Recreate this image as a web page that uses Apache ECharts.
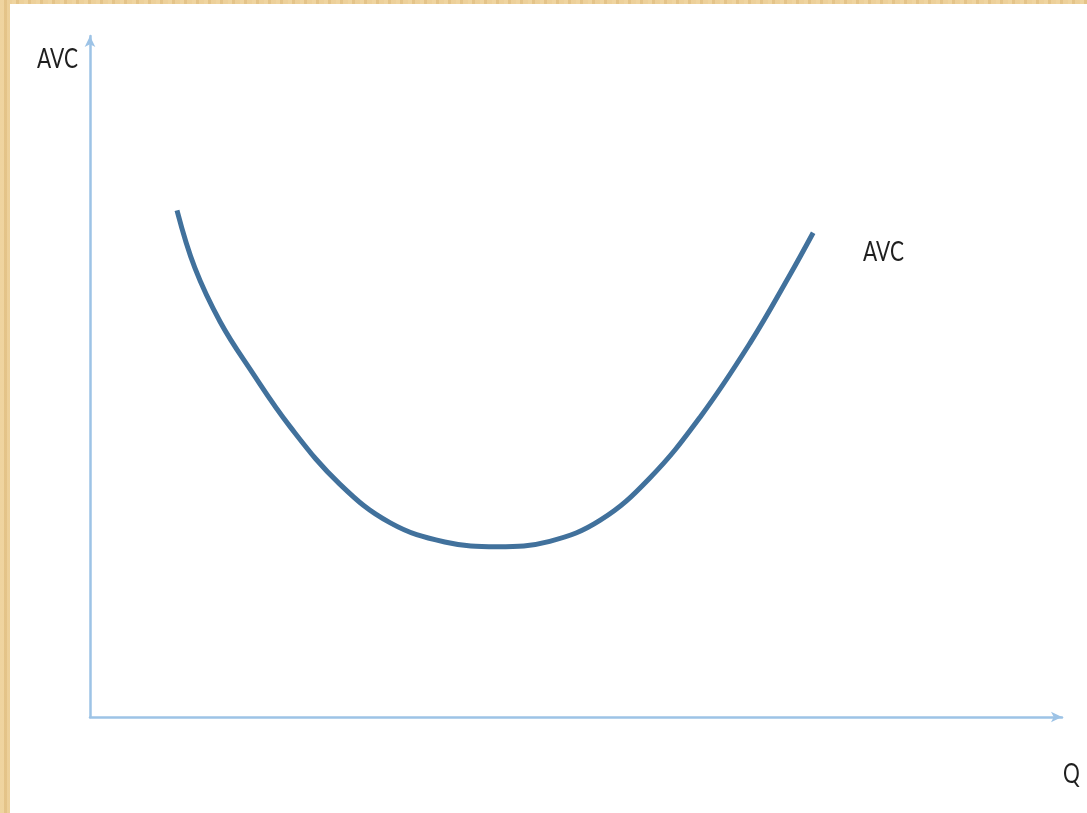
<!DOCTYPE html>
<html>
<head>
<meta charset="utf-8">
<title>AVC</title>
<script src="https://cdn.jsdelivr.net/npm/echarts@6/dist/echarts.min.js"></script>
<style>
  html, body {
    margin: 0;
    padding: 0;
    width: 1087px;
    height: 813px;
    overflow: hidden;
  }
  body {
    background-color: #e8c990;
    background-image:
      repeating-linear-gradient(90deg, rgba(255,238,195,.3) 0 4px, rgba(205,165,95,.15) 4px 7px, rgba(250,228,180,.25) 7px 12px);
  }
  #chart {
    position: absolute;
    left: 10px;
    top: 4px;
    width: 1077px;
    height: 809px;
    background: #ffffff;
  }
</style>
</head>
<body>
<div id="chart"></div>
<script>
// Q (quantity) and average variable cost, axis scale 0-100
const qValues = [8.95, 10.8, 13.4, 16.5, 20.6, 25.7, 30.9, 36.5,
                 41.9, 47.3, 52.5, 57.6, 62.8, 67.9, 72.0, 74.4]
const avcValues = [74.4, 65.9, 58.0, 51.0, 42.6, 34.2, 28.5, 25.7,
                   25.0, 25.8, 28.9, 35.1, 44.1, 54.9, 64.9, 71.1]
const axisMax = 100
const yAxisName = 'AVC'
const xAxisName = 'Q'
const curveName = 'AVC'

const chart = echarts.init(document.getElementById('chart'))

const axisLine = {
  show: true,
  symbol: ['none', 'arrow'],
  symbolSize: [8, 11],
  lineStyle: { color: '#9dc3e6', width: 2.5 }
}

// 文本稍微拉高，贴近原图的字形
const label = (text, x, y) => ({
  type: 'text',
  x: x,
  y: y,
  scaleY: 1.3,
  style: {
    text: text,
    fill: '#1f1f1f',
    font: '21px Lato, "Noto Sans", sans-serif',
    textVerticalAlign: 'top'
  }
})

const option = {
  animation: false,
  grid: { left: 80, right: 25, top: 32, bottom: 96, containLabel: false },
  xAxis: {
    type: 'value',
    min: 0,
    max: axisMax,
    axisLine: axisLine,
    axisTick: { show: false },
    axisLabel: { show: false },
    splitLine: { show: false }
  },
  yAxis: {
    type: 'value',
    min: 0,
    max: axisMax,
    axisLine: axisLine,
    axisTick: { show: false },
    axisLabel: { show: false },
    splitLine: { show: false }
  },
  graphic: [
    label(yAxisName, 27, 42),
    label(curveName, 853, 235),
    label(xAxisName, 1053, 757)
  ],
  series: [{
    name: curveName,
    type: 'line',
    smooth: 0.4,
    showSymbol: false,
    lineStyle: { color: '#41719c', width: 5 },
    data: qValues.map((q, i) => [q, avcValues[i]])
  }]
}

chart.setOption(option)
</script>
</body>
</html>
